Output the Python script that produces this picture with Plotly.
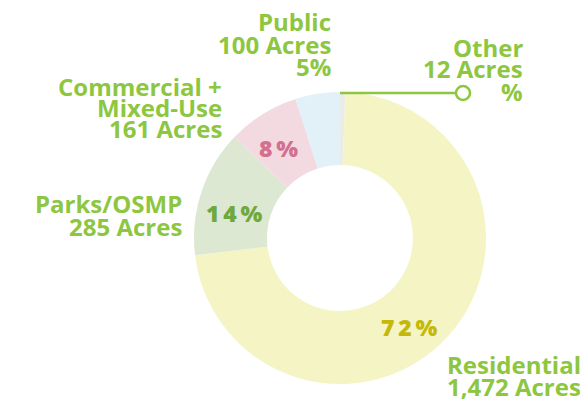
import plotly.graph_objects as go

# the page body has an 8px margin, so the figure is drawn 8px smaller and
# all reference pixel positions are shifted by that offset
OFF = 8
W, H = 588 - OFF, 402 - OFF

# ---- data ----
categories = ["Other", "Residential", "Parks/OSMP", "Commercial + Mixed-Use", "Public"]
name_lines = [["Other"], ["Residential"], ["Parks/OSMP"], ["Commercial +", "Mixed-Use"], ["Public"]]
acres = [12, 1472, 285, 161, 100]
pct_text = ["", "72", "14", "8", "5"]          # percentages as printed
pct_outside = [True, False, False, False, True]  # percent printed in the outside label

# ---- styles ----
slice_colors = ["#ebebe9", "#f5f4c5", "#dde8d3", "#f3dae1", "#e2f1f8"]
inside_colors = [None, "#c4b90a", "#6fa83c", "#d2718f", None]
green = "#8dc63f"
FONT = "Open Sans"

def px(x, y):
    """reference-window pixels -> paper coords"""
    return (x - OFF) / W, 1 - (y - OFF) / H

# pie placement (reference pixels)
cx, cy, R = 340, 238, 146
x0, y1 = px(cx - R, cy - R)
x1, y0 = px(cx + R, cy + R)
dom_x, dom_y = [x0, x1], [y0, y1]

fig = go.Figure(go.Pie(
    labels=categories, values=acres, sort=False, direction="clockwise", rotation=0,
    hole=0.5, marker=dict(colors=slice_colors, line=dict(width=0)),
    textinfo="none", hoverinfo="label+value+percent", showlegend=False,
    domain=dict(x=dom_x, y=dom_y),
))

annotations = []

def add_line(text, x, baseline, anchor="right", size=24, color=green, weight=700):
    xp, yp = px(x, baseline - 9 * size / 24)
    annotations.append(dict(text=text, x=xp, y=yp, xref="paper", yref="paper",
                            xanchor=anchor, yanchor="middle", showarrow=False,
                            font=dict(family=FONT, size=size, color=color, weight=weight)))

# outside label anchors: (x, first baseline, line pitch, anchor)
label_pos = {
    "Other": (525, 56, 22, "right"),
    "Residential": (445, 373, 22, "left"),
    "Parks/OSMP": (184, 212, 23, "right"),
    "Commercial + Mixed-Use": (224, 95, 21.5, "right"),
    "Public": (333, 31, 22.5, "right"),
}

for i, cat in enumerate(categories):
    lines = list(name_lines[i]) + [f"{acres[i]:,} Acres"]
    if pct_outside[i]:
        lines.append(f"{pct_text[i]}%")
    x, b0, pitch, anch = label_pos[cat]
    for k, t in enumerate(lines):
        add_line(t, x, b0 + k * pitch, anch)

# inside percent labels (centre positions in reference pixels)
inside_pos = {"Residential": (409, 327), "Parks/OSMP": (234, 213), "Commercial + Mixed-Use": (278, 148)}
for i, cat in enumerate(categories):
    if cat in inside_pos:
        x, y = inside_pos[cat]
        spaced = "\u2009".join(list(pct_text[i]) + ["%"])
        xp, yp = px(x, y)
        annotations.append(dict(text=spaced, x=xp, y=yp, xref="paper", yref="paper",
                                xanchor="center", yanchor="middle", showarrow=False,
                                font=dict(family=FONT, size=23, color=inside_colors[i], weight=800)))

# connector for the "Other" slice
top_x, top_y = (dom_x[0] + dom_x[1]) / 2, dom_y[1] - 1 / H
dot_x, _ = px(463, 0)
dot_r = 7
shapes = [
    dict(type="line", xref="paper", yref="paper", x0=top_x, x1=dot_x - dot_r / W,
         y0=top_y, y1=top_y, line=dict(color=green, width=2.5)),
    dict(type="circle", xref="paper", yref="paper",
         x0=dot_x - dot_r / W, x1=dot_x + dot_r / W,
         y0=top_y - dot_r / H, y1=top_y + dot_r / H,
         line=dict(color=green, width=2.5), fillcolor="white"),
]

fig.update_layout(
    width=W, height=H, margin=dict(l=0, r=0, t=0, b=0),
    paper_bgcolor="white", plot_bgcolor="white",
    annotations=annotations, shapes=shapes,
)

fig.write_html("out.html")
